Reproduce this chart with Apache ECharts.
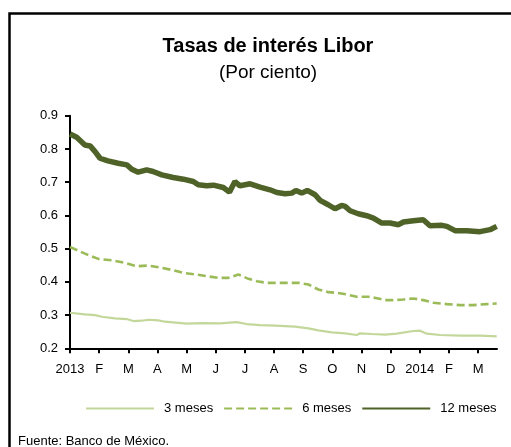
<!DOCTYPE html>
<html style="height: 100%">
<head>
    <meta charset="utf-8">
</head>
<body style="height: 100%; margin: 0">
    <div id="container" style="width: 511px; height: 447px"></div>
    <script type="text/javascript" src="https://cdn.jsdelivr.net/npm/echarts/dist/echarts.min.js"></script>
    <script type="text/javascript">
        // etiquetas del eje x (una por mes, 0 = enero 2013)
        var monthLabels = ['2013', 'F', 'M', 'A', 'M', 'J', 'J', 'A', 'S', 'O', 'N', 'D', '2014', 'F', 'M'];
        var yTicks = [0.2, 0.3, 0.4, 0.5, 0.6, 0.7, 0.8, 0.9];
        var seriesNames = ['3 meses', '6 meses', '12 meses'];

        // posicion en meses desde ene-2013 y tasa
        var x3 = [0, 0.51, 0.86, 1.09, 1.54, 1.95, 2.17, 2.46, 2.69, 3.03, 3.26, 3.54, 4.00, 4.57, 5.15, 5.72,
            6.06, 6.52, 7.04, 7.72, 8.18, 8.52, 8.98, 9.44, 9.84, 9.95, 10.35, 10.81, 11.21, 11.78, 12.01,
            12.24, 12.70, 13.38, 14.07, 14.64];
        var v3 = [0.307, 0.302, 0.300, 0.295, 0.290, 0.288, 0.282, 0.283, 0.286, 0.284, 0.280, 0.278, 0.274,
            0.276, 0.275, 0.279, 0.273, 0.270, 0.268, 0.265, 0.260, 0.254, 0.248, 0.245, 0.240, 0.245, 0.243,
            0.241, 0.244, 0.252, 0.253, 0.244, 0.240, 0.238, 0.238, 0.236];

        var x6 = [0, 0.51, 0.97, 1.43, 1.89, 2.29, 2.69, 3.15, 3.54, 3.89, 4.35, 4.69, 5.09, 5.43, 5.78, 6.12,
            6.41, 6.75, 7.49, 7.83, 8.18, 8.52, 8.86, 9.15, 9.50, 9.84, 10.24, 10.58, 10.81, 11.09, 11.44,
            11.78, 12.12, 12.47, 12.93, 13.38, 13.84, 14.30, 14.64];
        var v6 = [0.505, 0.485, 0.469, 0.465, 0.457, 0.447, 0.449, 0.442, 0.435, 0.427, 0.422, 0.417, 0.412,
            0.412, 0.422, 0.409, 0.402, 0.397, 0.397, 0.397, 0.392, 0.377, 0.369, 0.367, 0.362, 0.355, 0.355,
            0.350, 0.345, 0.345, 0.347, 0.350, 0.345, 0.337, 0.333, 0.330, 0.330, 0.333, 0.335];

        var x12 = [0, 0.23, 0.51, 0.69, 0.86, 1.03, 1.30, 1.65, 1.95, 2.12, 2.34, 2.63, 2.85, 3.15, 3.54, 3.89,
            4.23, 4.40, 4.69, 4.92, 5.26, 5.47, 5.66, 5.83, 6.18, 6.52, 6.86, 7.10, 7.38, 7.61, 7.75, 7.95,
            8.14, 8.41, 8.58, 8.86, 9.09, 9.32, 9.44, 9.61, 9.89, 10.18, 10.41, 10.70, 10.98, 11.27, 11.44,
            11.78, 12.12, 12.35, 12.76, 12.93, 13.21, 13.61, 14.07, 14.41, 14.64];
        var v12 = [0.845, 0.835, 0.812, 0.809, 0.792, 0.772, 0.764, 0.757, 0.752, 0.739, 0.730, 0.737, 0.732,
            0.722, 0.714, 0.709, 0.702, 0.692, 0.689, 0.691, 0.684, 0.670, 0.702, 0.689, 0.695, 0.685, 0.677,
            0.669, 0.665, 0.667, 0.675, 0.667, 0.675, 0.662, 0.645, 0.632, 0.620, 0.630, 0.627, 0.614, 0.605,
            0.599, 0.592, 0.577, 0.577, 0.572, 0.580, 0.584, 0.587, 0.569, 0.570, 0.567, 0.554, 0.554, 0.551,
            0.557, 0.567];

        function pairs(xs, vs) {
            return xs.map(function (x, i) { return [x, vs[i]]; });
        }

        var monthTicks = monthLabels.map(function (l, i) { return i; });
        var font = 'Liberation Sans';

        var dom = document.getElementById("container");
        var myChart = echarts.init(dom);
        var option = {
            animation: false,
            backgroundColor: '#ffffff',
            textStyle: { fontFamily: font },
            title: [{
                text: 'Tasas de interés Libor',
                left: 263,
                textAlign: 'center',
                top: 31,
                textStyle: { fontSize: 20, fontWeight: 'bold', color: '#000', fontFamily: font }
            }, {
                text: '(Por ciento)',
                left: 263,
                textAlign: 'center',
                top: 58,
                textStyle: { fontSize: 19, fontWeight: 'normal', color: '#000', fontFamily: font }
            }],
            graphic: [{
                type: 'rect',
                shape: { x: 9.5, y: 13.5, width: 520, height: 460 },
                style: { fill: 'none', stroke: '#000', lineWidth: 2.5 },
                silent: true
            }, {
                type: 'text',
                left: 18,
                top: 435,
                style: { text: 'Fuente: Banco de México.', font: '13px ' + font, fill: '#000' }
            }],
            legend: {
                data: seriesNames,
                left: 80,
                top: 397,
                itemWidth: 68,
                itemHeight: 14,
                itemGap: 10,
                itemStyle: { opacity: 0 },
                textStyle: { fontSize: 13, color: '#000', padding: [0, 0, 0, 5] }
            },
            grid: {
                left: 70,
                right: 14,
                top: 115.7,
                bottom: 98.7
            },
            xAxis: {
                type: 'value',
                min: 0,
                max: 14.65,
                interval: 1,
                splitLine: { show: false },
                axisLine: { lineStyle: { color: '#000', width: 2 } },
                axisTick: { length: 5, lineStyle: { color: '#000', width: 2 }, customValues: monthTicks },
                axisLabel: {
                    customValues: monthTicks,
                    color: '#000',
                    fontSize: 13,
                    margin: 15,
                    formatter: function (v) { return monthLabels[Math.round(v)] || ''; }
                }
            },
            yAxis: {
                type: 'value',
                min: yTicks[0],
                max: yTicks[yTicks.length - 1],
                interval: 0.1,
                splitLine: { show: false },
                axisLine: { show: true, lineStyle: { color: '#000', width: 2 } },
                axisTick: { show: true, length: 5, lineStyle: { color: '#000', width: 2 } },
                axisLabel: {
                    color: '#000',
                    fontSize: 13,
                    margin: 12,
                    formatter: function (v) { return v.toFixed(1); }
                }
            },
            series: [{
                name: seriesNames[0],
                type: 'line',
                showSymbol: false,
                symbol: 'none',
                color: '#c4d79b',
                lineStyle: { width: 2.2, color: '#c4d79b' },
                data: pairs(x3, v3)
            }, {
                name: seriesNames[1],
                type: 'line',
                showSymbol: false,
                symbol: 'none',
                color: '#9bbb59',
                lineStyle: { width: 2.6, color: '#9bbb59', type: [8, 4] },
                data: pairs(x6, v6)
            }, {
                name: seriesNames[2],
                type: 'line',
                showSymbol: false,
                symbol: 'none',
                color: '#4f6228',
                lineStyle: { width: 5.5, color: '#4f6228' },
                data: pairs(x12, v12)
            }]
        };
        myChart.setOption(option);
    </script>
</body>
</html>
